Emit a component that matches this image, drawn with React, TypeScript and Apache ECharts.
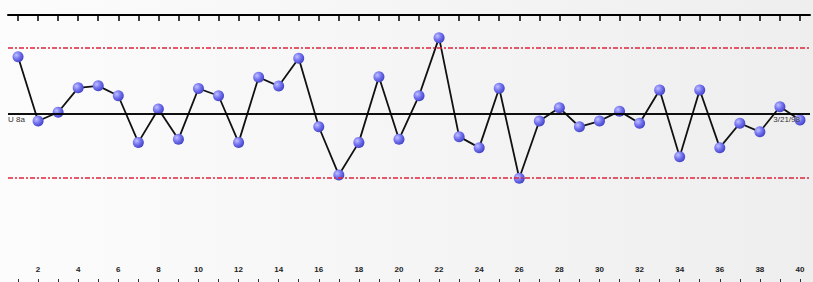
import React, { useEffect, useRef } from "react";
import * as echarts from "echarts";

const samples = [
  "1", "2", "3", "4", "5", "6", "7", "8", "9", "10",
  "11", "12", "13", "14", "15", "16", "17", "18", "19", "20",
  "21", "22", "23", "24", "25", "26", "27", "28", "29", "30",
  "31", "32", "33", "34", "35", "36", "37", "38", "39", "40",
];

const values = [
  12.57, 9.65, 10.05, 11.16, 11.25, 10.8, 8.68, 10.2, 8.82, 11.13,
  10.8, 8.68, 11.64, 11.24, 12.5, 9.39, 7.2, 8.68, 11.66, 8.82,
  10.8, 13.44, 8.94, 8.44, 11.14, 7.05, 9.65, 10.25, 9.39, 9.65,
  10.1, 9.55, 11.06, 8.03, 11.06, 8.44, 9.55, 9.16, 10.3, 9.7,
];

const centerLine = 10.0;
const upperLimit = 13.0;
const lowerLimit = 7.05;
const centerLabelStart = "U 8a";
const centerLabelEnd = "3/21/98";

export default function App() {
  const ref = useRef<HTMLDivElement>(null);

  useEffect(() => {
    if (!ref.current) return;
    const chart = echarts.init(ref.current, undefined, { renderer: "svg" });
    const limitStyle = { color: "#e0243c", type: [5, 2, 2, 2] as any, width: 1.5 };
    chart.setOption({
      animation: false,
      backgroundColor: new echarts.graphic.LinearGradient(0, 0, 1, 0, [
        { offset: 0, color: "#fcfcfc" },
        { offset: 1, color: "#eeeeee" },
      ]),
      grid: { left: 8, right: 3, top: 15, bottom: 3 },
      xAxis: [
        {
          type: "category",
          data: samples,
          position: "bottom",
          boundaryGap: true,
          axisLine: { show: false },
          axisTick: {
            show: true,
            alignWithLabel: true,
            interval: 0,
            length: 3,
            lineStyle: { color: "#333", width: 1 },
          },
          axisLabel: {
            inside: true,
            interval: (i: number) => i % 2 === 1,
            margin: 6,
            fontSize: 8,
            fontWeight: "bold",
            color: "#222",
            fontFamily: "Liberation Sans",
          },
          splitLine: { show: false },
        },
        {
          type: "category",
          data: samples,
          position: "top",
          boundaryGap: true,
          axisLine: { show: true, lineStyle: { color: "#000", width: 2 } },
          axisTick: {
            show: true,
            inside: true,
            alignWithLabel: true,
            interval: 0,
            length: 6,
            lineStyle: { color: "#000", width: 1.5 },
          },
          axisLabel: { show: false },
          splitLine: { show: false },
        },
      ],
      yAxis: {
        type: "value",
        min: 2.47,
        max: 14.47,
        show: false,
        splitLine: { show: false },
      },
      series: [
        {
          type: "line",
          data: values,
          xAxisIndex: 0,
          symbol: "circle",
          symbolSize: 11,
          showAllSymbol: true,
          lineStyle: { color: "#111", width: 1.8 },
          itemStyle: {
            color: new echarts.graphic.RadialGradient(0.35, 0.35, 0.7, [
              { offset: 0, color: "#c0c0ff" },
              { offset: 0.5, color: "#7474f0" },
              { offset: 1, color: "#4040c4" },
            ]),
            borderWidth: 0,
          },
          markLine: {
            silent: true,
            symbol: "none",
            data: [
              { yAxis: upperLimit, lineStyle: limitStyle, label: { show: false } },
              { yAxis: lowerLimit, lineStyle: limitStyle, label: { show: false } },
              {
                yAxis: centerLine,
                lineStyle: { color: "#000", type: "solid", width: 1.5 },
                label: {
                  show: true,
                  position: "insideStartBottom",
                  formatter: centerLabelStart,
                  fontSize: 8,
                  color: "#333",
                  distance: [0, 2],
                  fontFamily: "Liberation Sans",
                },
              },
              {
                yAxis: centerLine,
                lineStyle: { color: "#000", type: "solid", width: 1.5 },
                label: {
                  show: true,
                  position: "insideEndBottom",
                  formatter: centerLabelEnd,
                  fontSize: 8,
                  color: "#333",
                  distance: [10, 2],
                  fontFamily: "Liberation Sans",
                },
              },
            ],
          },
        },
      ],
    });
    return () => chart.dispose();
  }, []);

  return (
    <div
      ref={ref}
      style={{ position: "fixed", left: 0, top: 0, width: 813, height: 282 }}
    />
  );
}
